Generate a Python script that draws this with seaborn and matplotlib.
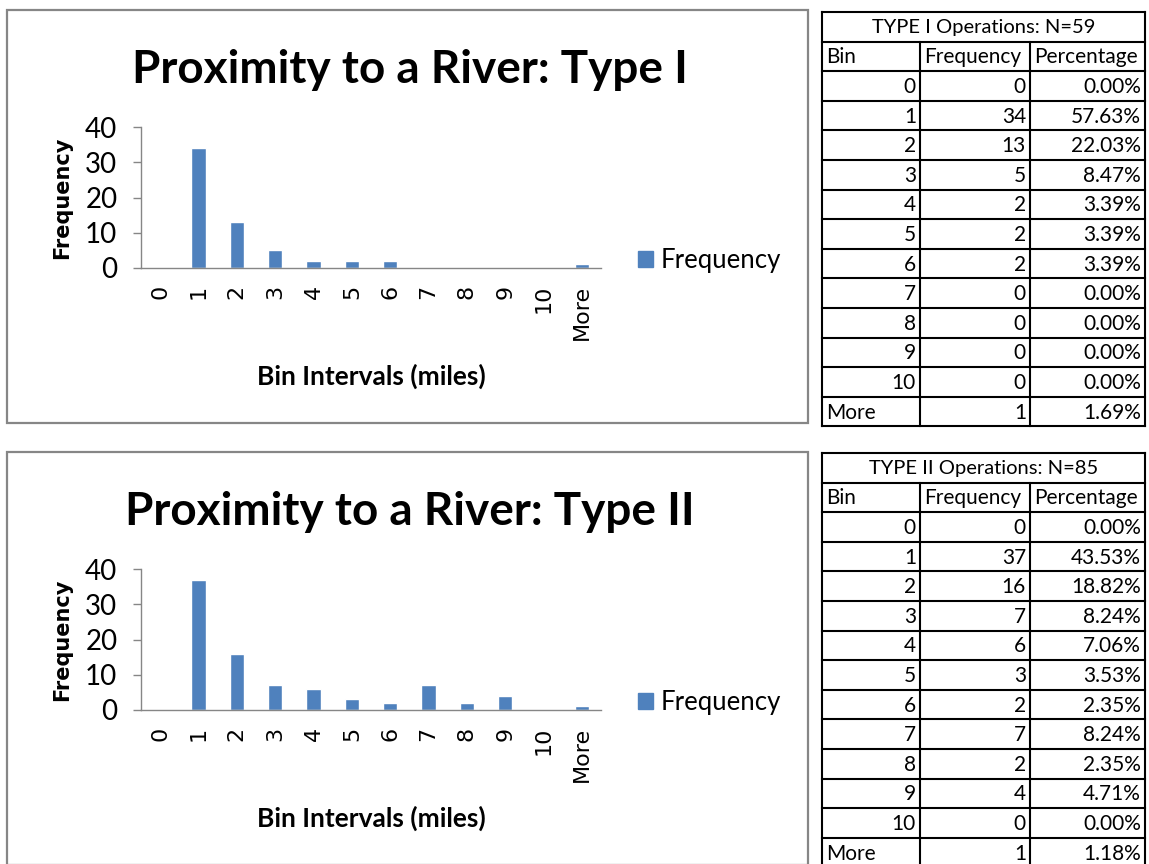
import numpy as np
import pandas as pd
import seaborn as sns
from matplotlib import pyplot as plt
from matplotlib.patches import Patch, Rectangle

# data
bins = ["0", "1", "2", "3", "4", "5", "6", "7", "8", "9", "10", "More"]
freq_type1 = [0, 34, 13, 5, 2, 2, 2, 0, 0, 0, 0, 1]
freq_type2 = [0, 37, 16, 7, 6, 3, 2, 7, 2, 4, 0, 1]
pct_type1 = ["0.00%", "57.63%", "22.03%", "8.47%", "3.39%", "3.39%", "3.39%",
             "0.00%", "0.00%", "0.00%", "0.00%", "1.69%"]
pct_type2 = ["0.00%", "43.53%", "18.82%", "8.24%", "7.06%", "3.53%", "2.35%",
             "8.24%", "2.35%", "4.71%", "0.00%", "1.18%"]
chart_titles = ["Proximity to a River: Type I", "Proximity to a River: Type II"]
table_titles = ["TYPE I Operations: N=59", "TYPE II Operations: N=85"]
yticks = [0, 10, 20, 30, 40]

sns.set_style("white")
plt.rcParams['font.family'] = ['Lato', 'DejaVu Sans']
for k in ['text.color', 'axes.labelcolor', 'xtick.color', 'ytick.color']:
    plt.rcParams[k] = 'black'

BLUE = '#4F81BD'
GRAY = '#868686'
W, H = 1149, 864

fig = plt.figure(figsize=(W / 100, H / 100), dpi=100)

# overlay in pixel units for the frames and the side tables
bg = fig.add_axes([0, 0, 1, 1])
bg.set_xlim(0, W)
bg.set_ylim(H, 0)
bg.axis('off')


def px_axes(x0, y_top, x1, y_bot):
    return fig.add_axes([x0 / W, 1 - y_bot / H, (x1 - x0) / W, (y_bot - y_top) / H])


def draw_chart(top, title, freq):
    bg.add_patch(Rectangle((7, top), 801, 413, fill=False, ec=GRAY, lw=1.6))
    bg.text(410, top + 60, title, ha='center', va='center', fontsize=33, fontweight='bold')

    ax = px_axes(141, top + 117, 601, top + 258)
    ax.set_facecolor('none')
    df = pd.DataFrame({"bin": bins, "Frequency": freq})
    sns.barplot(data=df, x="bin", y="Frequency", color=BLUE, saturation=1,
                width=0.38, ax=ax)
    ax.set_xlim(-0.5, len(bins) - 0.5)
    ax.set_ylim(0, 40)
    ax.set_yticks(yticks)
    ax.set_yticklabels([str(t) for t in yticks], fontsize=20)
    ax.set_xticks(range(len(bins)))
    ax.set_xticklabels(bins, rotation=90, fontsize=16, fontfamily='DejaVu Sans')
    ax.set_xticks(np.arange(-0.5, len(bins)), minor=True)
    ax.tick_params(axis='x', which='major', length=0, pad=12)
    ax.tick_params(axis='x', which='minor', length=10, color=GRAY, width=1)
    ax.tick_params(axis='y', length=6, color=GRAY, width=1, pad=11, left=True)
    for s in ['top', 'right']:
        ax.spines[s].set_visible(False)
    for s in ['left', 'bottom']:
        ax.spines[s].set_color(GRAY)
        ax.spines[s].set_linewidth(1)

    ax.set_ylabel("Frequency", fontsize=15, fontweight='bold', fontfamily='DejaVu Sans')
    ax.yaxis.label.set_va('center')
    ax.yaxis.set_label_coords(-0.172, 0.5)
    ax.set_xlabel("Bin Intervals (miles)", fontsize=19, fontweight='bold')
    ax.xaxis.set_label_coords(0.5, -0.77)
    ax.xaxis.label.set_va('center')

    ax.legend(handles=[Patch(color=BLUE, label="Frequency")], loc='center left',
              bbox_to_anchor=(1.03, 0.05), frameon=False, fontsize=18.5,
              handlelength=0.58, handleheight=0.58, handletextpad=0.3)


def draw_table(top, title, freq, pct):
    xs = [822, 920, 1030, 1145]
    rh = 29.6
    ys = [top + i * rh for i in range(len(bins) + 3)]
    kw = dict(color='black', lw=1.5, solid_capstyle='projecting')
    for y in ys:
        bg.plot([xs[0], xs[-1]], [y, y], **kw)
    for x in (xs[0], xs[-1]):
        bg.plot([x, x], [ys[0], ys[-1]], **kw)
    for x in xs[1:-1]:
        bg.plot([x, x], [ys[1], ys[-1]], **kw)
    fs = 15
    bg.text((xs[0] + xs[-1]) / 2, (ys[0] + ys[1]) / 2 + 1, title, ha='center', va='center', fontsize=14.5)
    yc = (ys[1] + ys[2]) / 2 + 1
    for x, txt in zip(xs[:-1], ["Bin", "Frequency", "Percentage"]):
        bg.text(x + 4, yc, txt, ha='left', va='center', fontsize=fs)
    for i, (b, f, p) in enumerate(zip(bins, freq, pct)):
        yc = (ys[i + 2] + ys[i + 3]) / 2 + 1
        if b == "More":
            bg.text(xs[0] + 4, yc, b, ha='left', va='center', fontsize=fs)
        else:
            bg.text(xs[1] - 4, yc, b, ha='right', va='center', fontsize=fs)
        bg.text(xs[2] - 4, yc, str(f), ha='right', va='center', fontsize=fs)
        bg.text(xs[3] - 4, yc, p, ha='right', va='center', fontsize=fs)


draw_chart(10, chart_titles[0], freq_type1)
draw_chart(452, chart_titles[1], freq_type2)
draw_table(12, table_titles[0], freq_type1, pct_type1)
draw_table(453, table_titles[1], freq_type2, pct_type2)

fig.savefig("out.png", dpi=100)
